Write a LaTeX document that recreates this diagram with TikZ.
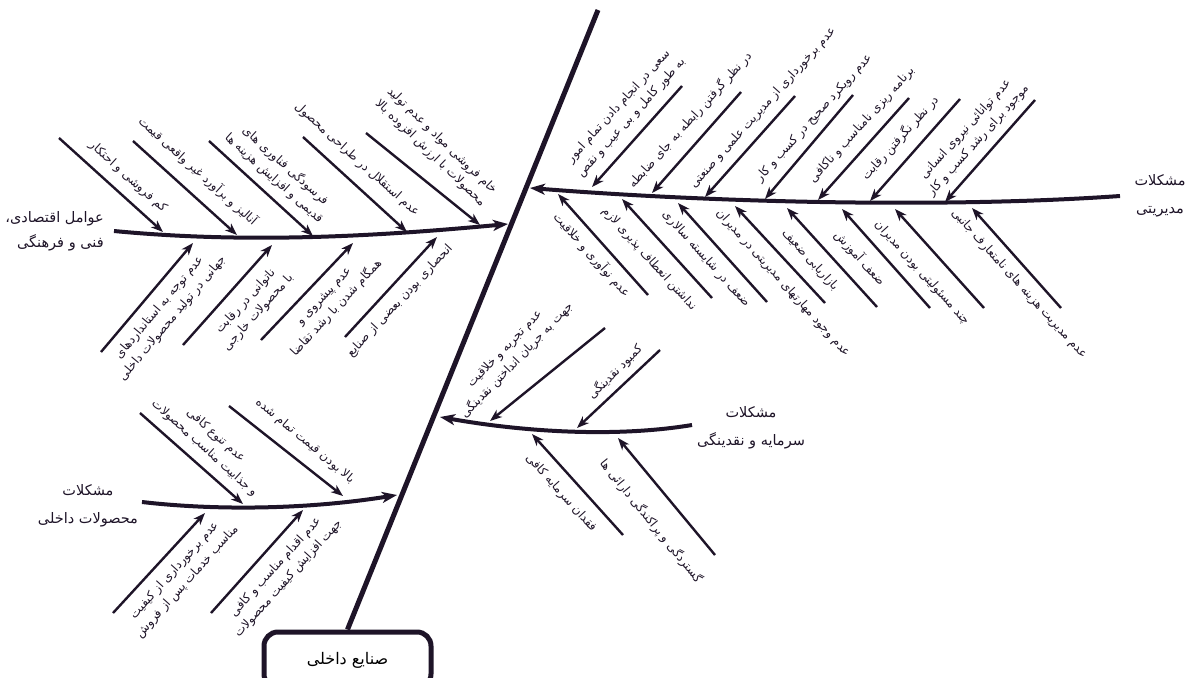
\documentclass[tikz,border=0pt]{standalone}
\usepackage{fontspec}
\newfontfamily\arabicfont[Script=Arabic]{DejaVu Sans}
\TeXXeTstate=1
\usetikzlibrary{arrows.meta}
\definecolor{ink}{RGB}{30,20,40}
\newcommand\faT[1]{\beginR #1\endR}
\tikzset{
  spine/.style={draw=ink, line width=5pt},
  bone/.style={draw=ink, line width=4pt, -{Stealth[length=15pt,width=11pt,inset=4pt]}},
  rib/.style={draw=ink, line width=2.4pt, -{Stealth[length=12pt,width=9pt,inset=3.5pt]}},
  lbl/.style={font=\arabicfont\fontsize{12}{17}\selectfont, text=ink, align=center, inner sep=0pt},
  head/.style={font=\arabicfont\fontsize{14.5}{28}\selectfont, text=ink, align=center, inner sep=0pt},
  effectbox/.style={draw=ink, line width=5pt, rounded corners=14pt, minimum width=167pt, minimum height=56pt, font=\arabicfont\fontsize{16}{18}\selectfont, inner sep=0pt}
}
\begin{document}
\begin{tikzpicture}[x=1pt,y=-1pt]
\useasboundingbox (0,0) rectangle (1190,677);
\fill[white] (0,0) rectangle (1190,677);
\clip (0,0) rectangle (1190,677);

% spine and effect
\coordinate (spineTop) at (598,10);
\node[effectbox] (effect) at (347.5,660) {\faT{صنایع داخلی}};
\draw[spine] (spineTop) -- (effect.north);

% ---------- group A ----------
\coordinate (A0) at (114,231);
\coordinate (A1) at (508,224);
\draw[bone] (A0) .. controls (250,244) and (380,236) .. (A1);
\node[head, font=\arabicfont\fontsize{14.5}{25}\selectfont, align=right, anchor=east] (Ahead) at (104,231) {\faT{عوامل اقتصادی،}\\\faT{فنی و فرهنگی}};

\coordinate (AU1s) at (59,138);  \coordinate (AU1t) at (163,232);
\coordinate (AU2s) at (133,141); \coordinate (AU2t) at (237,235);
\coordinate (AU3s) at (209,141); \coordinate (AU3t) at (313,236);
\coordinate (AU4s) at (303,137); \coordinate (AU4t) at (407,232);
\coordinate (AU5s) at (366,133); \coordinate (AU5t) at (480,225);
\coordinate (AL1s) at (101,352); \coordinate (AL1t) at (193,243);
\coordinate (AL2s) at (183,345); \coordinate (AL2t) at (272,245);
\coordinate (AL3s) at (261,340); \coordinate (AL3t) at (353,243);
\coordinate (AL4s) at (345,337); \coordinate (AL4t) at (437,237);
\foreach \n in {AU1,AU2,AU3,AU4,AU5,AL1,AL2,AL3,AL4} \draw[rib] (\n s) -- (\n t);

\node[lbl, rotate=-42] (AU1l) at (128,177) {\faT{کم فروشی و احتکار}};
\node[lbl, rotate=-42] (AU2l) at (198,171) {\faT{آنالیز و برآورد غیر واقعی قیمت}};
\node[lbl, rotate=-42] (AU3l) at (280,172) {\faT{فرسودگی فناوری های}\\\faT{قدیمی و افزایش هزینه ها}};
\node[lbl, rotate=-42] (AU4l) at (357,160) {\faT{عدم استقلال در طراحی محصول}};
\node[lbl, rotate=-44] (AU5l) at (436,147) {\faT{خام فروشی مواد و عدم تولید}\\\faT{محصولات با ارزش افزوده بالا}};
\node[lbl, rotate=50] (AL1l) at (166,313) {\faT{عدم توجه به استانداردهای}\\\faT{جهانی در تولید محصولات داخلی}};
\node[lbl, rotate=48] (AL2l) at (252,307) {\faT{ناتوانی در رقابت}\\\faT{با محصولات خارجی}};
\node[lbl, rotate=47] (AL3l) at (331,303) {\faT{عدم پیشروی و}\\\faT{همگام شدن با رشد تقاضا}};
\node[lbl, rotate=47] (AL4l) at (400,301) {\faT{انحصاری بودن بعضی از صنایع}};

% ---------- group B ----------
\coordinate (B0) at (1120,196);
\coordinate (B1) at (530,188);
\draw[bone] (B0) .. controls (950,208) and (720,203) .. (B1);
\node[head] (Bhead) at (1160,196) {\faT{مشکلات}\\\faT{مدیریتی}};

\coordinate (BU1s) at (682,86);  \coordinate (BU1t) at (592,187);
\coordinate (BU2s) at (741,92);  \coordinate (BU2t) at (652,193);
\coordinate (BU3s) at (795,96);  \coordinate (BU3t) at (705,197);
\coordinate (BU4s) at (853,95);  \coordinate (BU4t) at (765,199);
\coordinate (BU5s) at (909,98);  \coordinate (BU5t) at (818,200);
\coordinate (BU6s) at (960,99);  \coordinate (BU6t) at (870,201);
\coordinate (BU7s) at (1035,100);\coordinate (BU7t) at (945,202);
\coordinate (BL1s) at (648,295); \coordinate (BL1t) at (558,194);
\coordinate (BL2s) at (712,298); \coordinate (BL2t) at (622,199);
\coordinate (BL3s) at (767,302); \coordinate (BL3t) at (678,203);
\coordinate (BL4s) at (825,303); \coordinate (BL4t) at (735,206);
\coordinate (BL5s) at (877,307); \coordinate (BL5t) at (787,208);
\coordinate (BL6s) at (930,308); \coordinate (BL6t) at (842,209);
\coordinate (BL7s) at (984,308); \coordinate (BL7t) at (895,209);
\coordinate (BL8s) at (1061,308);\coordinate (BL8t) at (972,208);
\foreach \n in {BU1,BU2,BU3,BU4,BU5,BU6,BU7,BL1,BL2,BL3,BL4,BL5,BL6,BL7,BL8} \draw[rib] (\n s) -- (\n t);

\node[lbl, rotate=48] (BU1l) at (625,112) {\faT{سعی در انجام دادن تمام امور}\\\faT{به طور کامل و بی عیب و نقص}};
\node[lbl, rotate=48] (BU2l) at (690,120) {\faT{در نظر گرفتن رابطه به جای ضابطه}};
\node[lbl, rotate=48] (BU3l) at (763,108) {\faT{عدم برخورداری از مدیریت علمی و صنعتی}};
\node[lbl, rotate=48] (BU4l) at (814,118) {\faT{عدم رویکرد صحیح در کسب و کار}};
\node[lbl, rotate=48] (BU5l) at (862,125) {\faT{برنامه ریزی نامناسب و ناکافی}};
\node[lbl, rotate=48] (BU6l) at (900,138) {\faT{در نظر نگرفتن رقابت}};
\node[lbl, rotate=48] (BU7l) at (972,135) {\faT{عدم توانائی نیروی انسانی}\\\faT{موجود برای رشد کسب و کار}};
\node[lbl, rotate=-48] (BL1l) at (592,255) {\faT{عدم نوآوری و خلاقیت}};
\node[lbl, rotate=-48] (BL2l) at (649,259) {\faT{نداشتن انعطاف پذیری لازم}};
\node[lbl, rotate=-48] (BL3l) at (706,259) {\faT{ضعف در شایسته سالاری}};
\node[lbl, rotate=-48] (BL4l) at (783,283) {\faT{عدم وجود مهارتهای مدیریتی در مدیران}};
\node[lbl, rotate=-48] (BL5l) at (810,260) {\faT{بازاریابی ضعیف}};
\node[lbl, rotate=-48] (BL6l) at (860,258) {\faT{ضعف آموزش}};
\node[lbl, rotate=-48] (BL7l) at (922,273) {\faT{چند مسئولیتی بودن مدیران}};
\node[lbl, rotate=-48] (BL8l) at (1019,284) {\faT{عدم مدیریت هزینه های نامتعارف جانبی}};

% ---------- group C ----------
\coordinate (C0) at (692,425);
\coordinate (C1) at (440,417);
\draw[bone] (C0) .. controls (620,437) and (530,433) .. (C1);
\node[head] (Chead) at (751,428) {\faT{مشکلات}\\\faT{سرمایه و نقدینگی}};

\coordinate (CU1s) at (605,328); \coordinate (CU1t) at (490,421);
\coordinate (CU2s) at (660,350); \coordinate (CU2t) at (577,428);
\coordinate (CL1s) at (623,535); \coordinate (CL1t) at (532,434);
\coordinate (CL2s) at (715,555); \coordinate (CL2t) at (618,438);
\foreach \n in {CU1,CU2,CL1,CL2} \draw[rib] (\n s) -- (\n t);

\node[lbl, rotate=46] (CU1l) at (511,355) {\faT{عدم تجربه و خلاقیت}\\\faT{جهت به جریان انداختن نقدینگی}};
\node[lbl, rotate=45] (CU2l) at (615,372) {\faT{کمبود نقدینگی}};
\node[lbl, rotate=-48] (CL1l) at (561,493) {\faT{فقدان سرمایه کافی}};
\node[lbl, rotate=-51] (CL2l) at (651,521) {\faT{گستردگی و پراکندگی دارائی ها}};

% ---------- group D ----------
\coordinate (D0) at (142,502);
\coordinate (D1) at (397,495);
\draw[bone] (D0) .. controls (220,511) and (310,509) .. (D1);
\node[head] (Dhead) at (88,506) {\faT{مشکلات}\\\faT{محصولات داخلی}};

\coordinate (DU1s) at (140,413); \coordinate (DU1t) at (243,504);
\coordinate (DU2s) at (229,406); \coordinate (DU2t) at (343,496);
\coordinate (DL1s) at (113,613); \coordinate (DL1t) at (205,513);
\coordinate (DL2s) at (211,613); \coordinate (DL2t) at (303,510);
\foreach \n in {DU1,DU2,DL1,DL2} \draw[rib] (\n s) -- (\n t);

\node[lbl, rotate=-42] (DU1l) at (210,442) {\faT{عدم تنوع کافی}\\\faT{و جذابیت مناسب محصولات}};
\node[lbl, rotate=-40] (DU2l) at (305,441) {\faT{بالا بودن قیمت تمام شده}};
\node[lbl, rotate=48] (DL1l) at (181,576) {\faT{عدم برخورداری از کیفیت}\\\faT{مناسب خدمات پس از فروش}};
\node[lbl, rotate=48] (DL2l) at (282,573) {\faT{عدم اقدام مناسب و کافی}\\\faT{جهت افزایش کیفیت محصولات}};
\end{tikzpicture}
\end{document}
